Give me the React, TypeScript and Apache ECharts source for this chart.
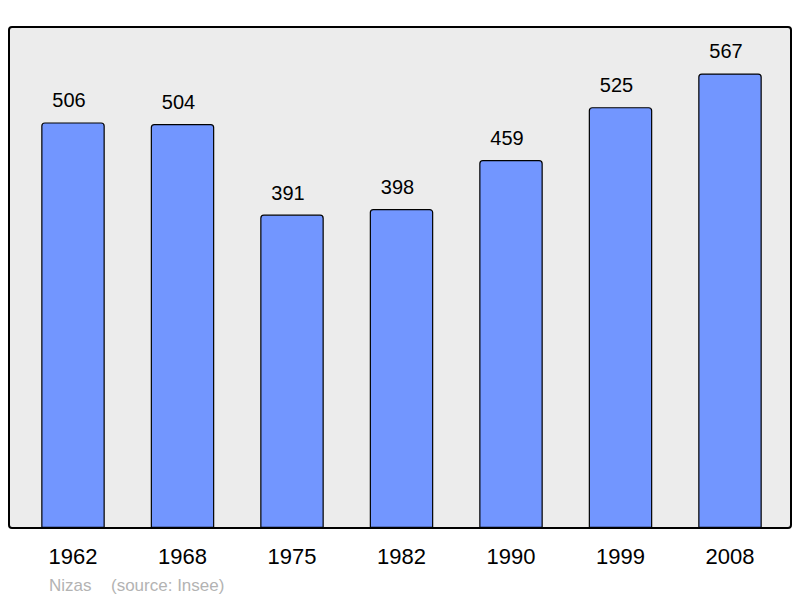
import React, { useEffect, useRef } from "react";
import * as echarts from "echarts";

const years = ["1962", "1968", "1975", "1982", "1990", "1999", "2008"];
const population = [506, 504, 391, 398, 459, 525, 567];
const townName = "Nizas";
const sourceText = "(source: Insee)";

export default function App() {
  const ref = useRef<HTMLDivElement>(null);
  useEffect(() => {
    document.body.style.margin = "0";
    const chart = echarts.init(ref.current!, null, { renderer: "svg" });
    chart.setOption({
      animation: false,
      backgroundColor: "#ffffff",
      textStyle: { fontFamily: "Liberation Sans, Arial, sans-serif" },
      grid: { left: 18.25, right: 15.25, top: 27, bottom: 70, containLabel: false },
      graphic: [
        {
          type: "rect",
          z: -1,
          shape: { x: 9, y: 27, width: 782, height: 501, r: 3 },
          style: { fill: "#ececec", stroke: "#000", lineWidth: 2 },
        },
        {
          type: "text",
          x: 49,
          y: 585,
          style: {
            text: townName,
            fill: "#b3b3b3",
            font: "17px Liberation Sans, Arial, sans-serif",
            verticalAlign: "middle",
          },
        },
        {
          type: "text",
          x: 111,
          y: 585,
          style: {
            text: sourceText,
            fill: "#b3b3b3",
            font: "17px Liberation Sans, Arial, sans-serif",
            verticalAlign: "middle",
          },
        },
      ],
      xAxis: {
        type: "category",
        data: years,
        axisLine: { show: false },
        axisTick: { show: false },
        axisLabel: { color: "#000", fontSize: 22, margin: 17 },
      },
      yAxis: {
        type: "value",
        min: 0,
        max: 625,
        show: false,
        splitLine: { show: false },
      },
      series: [
        {
          type: "bar",
          data: population,
          barWidth: 63.5,
          itemStyle: {
            color: "#7296ff",
            borderColor: "#000",
            borderWidth: 1.2,
            borderRadius: [3, 3, 0, 0],
          },
          label: {
            show: true,
            position: "top",
            distance: 12,
            offset: [-4, 0],
            color: "#000",
            fontSize: 20,
          },
        },
      ],
    });
    return () => chart.dispose();
  }, []);
  return <div ref={ref} style={{ width: 800, height: 598 }} />;
}
